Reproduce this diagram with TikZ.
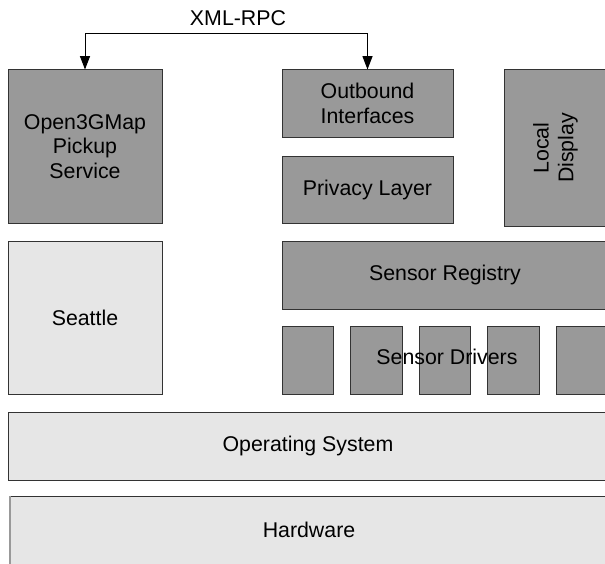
\documentclass[tikz,border=0pt]{standalone}
\usepackage{fontspec}
\setmainfont{Liberation Sans}
\usetikzlibrary{fit,arrows.meta}
\definecolor{dkfill}{HTML}{999999}
\definecolor{ltfill}{HTML}{E6E6E6}
\definecolor{edge}{HTML}{333333}
\begin{document}
\begin{tikzpicture}[x=0.75pt,y=-0.75pt,
  font=\fontsize{16}{18.5}\selectfont,
  blk/.style={draw=edge, line width=0.75pt, inner sep=0pt},
  dk/.style={blk, fill=dkfill},
  lt/.style={blk, fill=ltfill},
  lbl/.style={inner sep=0pt, align=center},
  conn/.style={line width=0.75pt, {Triangle[length=10pt,width=7.5pt]}-{Triangle[length=10pt,width=7.5pt]}}]
\useasboundingbox (0,0) rectangle (605,563);
\clip (0,0) rectangle (605,563);
% upper boxes
\node[dk, fit={(8,70) (162,223)}] (open) {};
\node[lbl] (openlbl) at (open.center) {Open3GMap\\Pickup\\Service};
\node[dk, fit={(282,70) (453,137)}] (out) {};
\node[lbl] (outlbl) at (out.center) {Outbound\\Interfaces};
\node[dk, fit={(282,156) (453,223)}] (priv) {};
\node[lbl] (privlbl) at (priv.center) {Privacy Layer};
\node[dk, fit={(504,70) (607,226)}] (disp) {};
\node[lbl, rotate=90] (displbl) at (disp.center) {Local\\Display};
\node[lt, fit={(8,241) (162,394)}] (seattle) {};
\node[lbl] (seattlelbl) at (seattle.center) {Seattle};
\node[dk, fit={(282,241) (608,309)}] (reg) {};
\node[lbl] (reglbl) at (reg.center) {Sensor Registry};
% sensor drivers
\node[dk, fit={(282,326) (333,394)}] (d1) {};
\node[dk, fit={(350,326) (402,394)}] (d2) {};
\node[dk, fit={(419,326) (470,394)}] (d3) {};
\node[dk, fit={(487,326) (539,394)}] (d4) {};
\node[dk, fit={(556,326) (607,394)}] (d5) {};
\node[lbl] (drv) at (447,357) {Sensor Drivers};
% OS and hardware
\node[lt, fit={(8,412) (608,480)}] (os) {};
\node[lbl] (oslbl) at (308,446) {Operating System};
\node[lt, fit={(10,496) (608,600)}] (hw) {};
\draw[line width=1.5pt, draw=gray!80] ([xshift=0.4pt]hw.north west) -- ([xshift=0.4pt]hw.south west);
\node[lbl] (hwlbl) at (309,530) {Hardware};
% connector
\coordinate (top) at (0,34);
\node[lbl] (xml) at (238,18) {XML-RPC};
\draw[conn] (open.north) -- (open.north |- top) -| (out.north);
\end{tikzpicture}
\end{document}
